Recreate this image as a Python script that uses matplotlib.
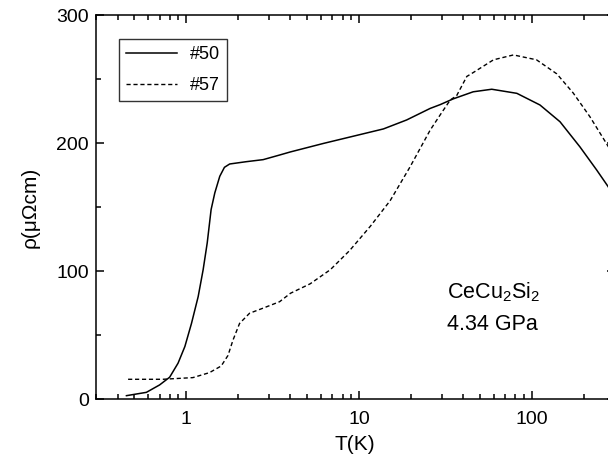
import matplotlib
matplotlib.use("Agg")
import matplotlib.pyplot as plt
from matplotlib.ticker import FixedLocator, LogLocator, NullFormatter

plt.rcParams['font.family'] = ['Liberation Sans', 'DejaVu Sans']
plt.rcParams['mathtext.fontset'] = 'custom'
plt.rcParams['mathtext.rm'] = 'Liberation Sans'
plt.rcParams['mathtext.it'] = 'Liberation Sans:italic'

# sample #50 (solid)
t50 = [0.45, 0.587, 0.70, 0.80, 0.895, 0.98, 1.07, 1.17, 1.25, 1.32, 1.39,
       1.46, 1.56, 1.66, 1.78, 2.22, 2.78, 3.46, 3.99, 6.22, 9.7, 13.8,
       18.8, 25.7, 29.4, 35.0, 45.6, 58.4, 81.6, 111.0, 145.0, 189.0,
       236.0, 275.0, 300.0]
r50 = [2.6, 5.2, 11, 17, 28, 41, 59, 80, 101, 122, 148,
       161, 174, 181, 183.6, 185.4, 187, 190.6, 193, 199.7, 206, 211,
       218, 227, 230, 234.5, 240, 242, 238.8, 229.7, 216.6, 197,
       179, 166, 157]

# sample #57 (dashed)
t57 = [0.46, 0.73, 1.09, 1.36, 1.59, 1.74, 1.86, 2.03, 2.32, 2.78, 3.46,
       4.0, 5.2, 6.8, 8.8, 11.6, 15.1, 19.7, 25.7, 29.4, 33.6, 36.6, 41.9,
       45.6, 59.8, 78.0, 106.0, 139.0, 173.0, 216.0, 268.0, 300.0]
r57 = [15.4, 15.4, 16.7, 20.6, 25.8, 34, 46, 59, 67, 71, 76,
       82.6, 90, 101, 116, 135, 155, 181.5, 210, 222, 233.6, 237, 252,
       255, 265, 268.8, 265, 254, 239, 220.5, 200, 189]

fig = plt.figure(figsize=(6.08, 4.62), dpi=100)
ax = fig.add_axes([96 / 608, 63 / 462, (614.6 - 96) / 608, 384 / 462])

ax.plot(t50, r50, color='black', lw=1.1, label='#50')
ax.plot(t57, r57, color='black', lw=1.0, linestyle=(0, (3, 2)), label='#57')

ax.set_xscale('log')
ax.set_xlim(0.3, 300)
ax.set_ylim(0, 300)
ax.xaxis.set_major_locator(FixedLocator([1, 10, 100]))
ax.xaxis.set_minor_locator(LogLocator(base=10, subs=range(2, 10)))
ax.xaxis.set_minor_formatter(NullFormatter())
ax.set_xticklabels(['1', '10', '100'])
ax.yaxis.set_major_locator(FixedLocator([0, 100, 200, 300]))
ax.yaxis.set_minor_locator(FixedLocator([50, 150, 250]))

ax.tick_params(which='both', direction='in', top=True, right=True, width=1.1,
               labelsize=14)
ax.tick_params(which='major', length=6, pad=5)
ax.tick_params(axis='x', which='major', pad=9)
ax.tick_params(which='minor', length=3.5)
for s in ax.spines.values():
    s.set_linewidth(1.1)

ax.set_xlabel('T(K)', fontsize=15, labelpad=5)
ax.set_ylabel('ρ(μΩcm)', fontsize=15, labelpad=12)

leg = ax.legend(loc='upper left', bbox_to_anchor=(0.044, 0.9375), fontsize=13,
                frameon=True, fancybox=False, edgecolor='black',
                handlelength=2.85, handletextpad=0.7, borderpad=0.38,
                labelspacing=0.8, borderaxespad=0)
leg.get_frame().set_linewidth(1.0)

ax.text(0.676, 0.237, 'CeCu$_2$Si$_2$\n4.34 GPa', transform=ax.transAxes,
        fontsize=15.5, ha='left', va='center', linespacing=1.6)

fig.savefig('out.png', dpi=100)
